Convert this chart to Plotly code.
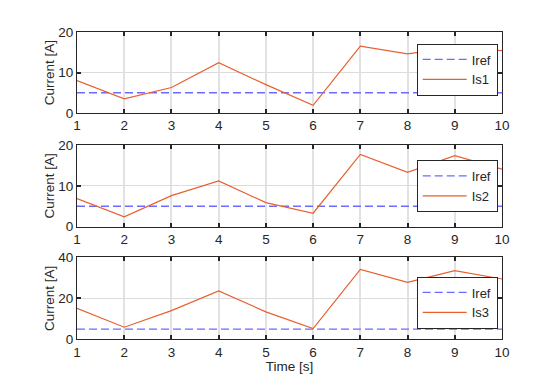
import plotly.graph_objects as go

time = [1, 2, 3, 4, 5, 6, 7, 8, 9, 10]
iref = [5, 5, 5, 5, 5, 5, 5, 5, 5, 5]
is1 = [8.0, 3.5, 6.3, 12.4, 7.0, 1.9, 16.5, 14.6, 16.2, 15.4]
is2 = [6.9, 2.4, 7.6, 11.2, 5.9, 3.3, 17.7, 13.3, 17.4, 14.1]
is3 = [15.1, 5.9, 14.0, 23.6, 13.4, 5.2, 34.1, 27.8, 33.5, 29.4]
names = ["Is1", "Is2", "Is3"]
yranges = [[0, 20], [0, 20], [0, 40]]
yticks = [[0, 10, 20], [0, 10, 20], [0, 20, 40]]
xticks = time

# page body has an 8px margin; size the figure to fit the 536x385 window
OFF = 8
W, H = 536 - 2 * OFF, 385 - 2 * OFF
xdom = [(77 - OFF) / W, (502 - OFF) / W]
rows_px = [(32, 113), (145, 226.7), (257.3, 339.3)]
legend_mid = [69.5, 186.0, 302.5]
legend_right = 497.7

blue = "#6b6bff"
orange = "#e8602f"
txt = "#262626"
FONT = "Liberation Sans, Arial"
FS = 13.5

fig = go.Figure()
series = [is1, is2, is3]
for i, s in enumerate(series):
    k = "" if i == 0 else str(i + 1)
    leg = "legend" + k
    fig.add_trace(go.Scatter(x=time, y=iref, mode="lines", name="Iref",
                             line=dict(color=blue, width=1.3, dash="8px,4px"),
                             xaxis="x" + k, yaxis="y" + k, legend=leg))
    fig.add_trace(go.Scatter(x=time, y=s, mode="lines", name=names[i],
                             line=dict(color=orange, width=1.2),
                             xaxis="x" + k, yaxis="y" + k, legend=leg))
    top, bot = rows_px[i]
    axis_common = dict(showline=True, linecolor=txt, linewidth=1, mirror="ticks",
                       ticks="inside", ticklen=4, tickcolor=txt, tickwidth=1.5,
                       tickfont=dict(family=FONT, size=FS, color=txt),
                       showgrid=True, zeroline=False, automargin=False)
    fig.layout["xaxis" + k] = dict(domain=xdom, range=[1, 10], tickvals=xticks,
                                   anchor="y" + k, gridwidth=2, gridcolor="#e2e2e2",
                                   **axis_common)
    fig.layout["yaxis" + k] = dict(domain=[1 - (bot - OFF) / H, 1 - (top - OFF) / H],
                                   range=yranges[i], tickvals=yticks[i], anchor="x" + k,
                                   gridwidth=1, gridcolor="#dcdcdc",
                                   title=dict(text="Current [A]", standoff=0,
                                              font=dict(family=FONT, size=FS, color=txt)),
                                   **axis_common)
    fig.layout[leg] = dict(x=(legend_right - OFF) / W, y=1 - (legend_mid[i] - OFF) / H,
                           xanchor="right", yanchor="middle",
                           bgcolor="white", bordercolor=txt, borderwidth=1,
                           font=dict(family=FONT, size=13, color=txt),
                           tracegroupgap=0, itemwidth=44)

fig.layout.xaxis3.title = dict(text="Time [s]", standoff=3,
                               font=dict(family=FONT, size=FS, color=txt))

fig.update_layout(width=W, height=H, margin=dict(l=0, r=0, t=0, b=0, autoexpand=False),
                  paper_bgcolor="white", plot_bgcolor="white", showlegend=True)

fig.write_html("out.html")
